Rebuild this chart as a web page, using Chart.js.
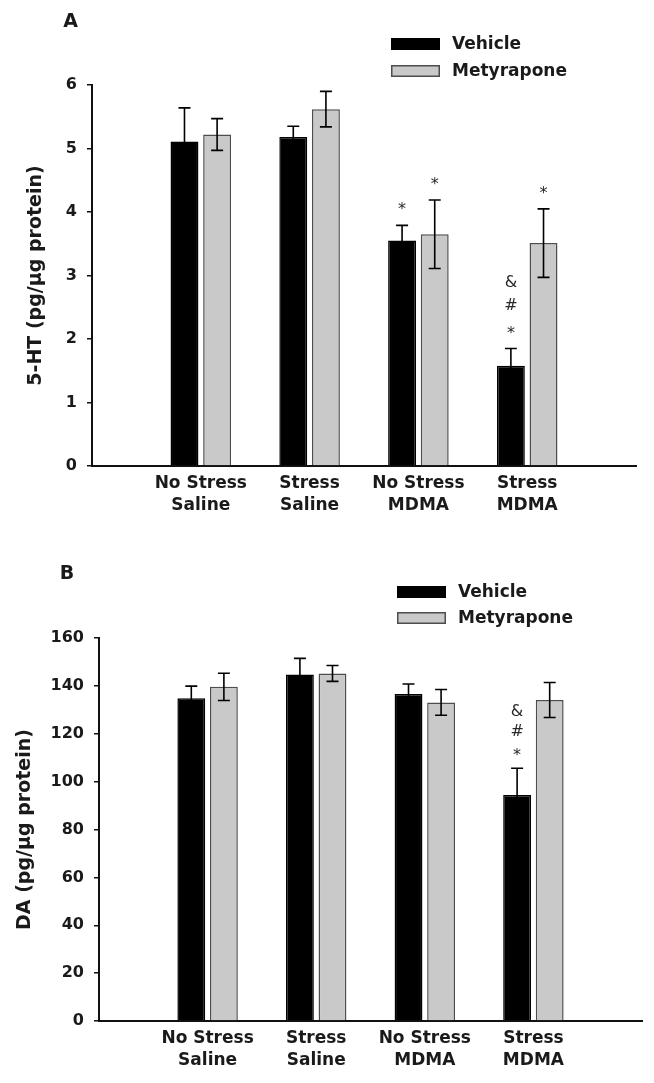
<!DOCTYPE html>
<html>
<head>
<meta charset="utf-8">
<script src="https://cdn.jsdelivr.net/npm/chart.js@4.4.1/dist/chart.umd.min.js"></script>
<style>
html, body { margin: 0; padding: 0; background: #fff; }
#wrap { position: relative; width: 654px; height: 1083px; overflow: hidden; }
canvas { position: absolute; left: 0; display: block; }
</style>
</head>
<body>
<div id="wrap">
  <canvas id="chartA" width="654" height="540" style="top:0px;width:654px;height:540px"></canvas>
  <canvas id="chartB" width="654" height="543" style="top:540px;width:654px;height:543px"></canvas>
</div>
<script>
// ---------- DATA ----------
const categories = [['No Stress', 'Saline'], ['Stress', 'Saline'], ['No Stress', 'MDMA'], ['Stress', 'MDMA']];
const seriesNames = ['Vehicle', 'Metyrapone'];

// Panel A : 5-HT
const vehicleA = [5.11, 5.18, 3.55, 1.58];
const vehicleErrA = [0.53, 0.17, 0.24, 0.27];
const metyraponeA = [5.22, 5.62, 3.65, 3.51];
const metyraponeErrA = [0.25, 0.28, 0.54, 0.54];
const marksVehicleA = [[], [], ['*'], ['*', '#', '&']];
const marksMetyraponeA = [[], [], ['*'], ['*']];
const yTicksA = [0, 1, 2, 3, 4, 5, 6];
const yTitleA = '5-HT (pg/\u00b5g protein)';

// Panel B : DA
const vehicleB = [134.8, 144.8, 136.6, 94.4];
const vehicleErrB = [5.1, 6.7, 4.2, 11.2];
const metyraponeB = [139.6, 145.2, 133.1, 134.1];
const metyraponeErrB = [5.7, 3.3, 5.4, 7.3];
const marksVehicleB = [[], [], [], ['*', '#', '&']];
const marksMetyraponeB = [[], [], [], []];
const yTicksB = [0, 20, 40, 60, 80, 100, 120, 140, 160];
const yTitleB = 'DA (pg/\u00b5g protein)';

// ---------- STYLE ----------
const FONT = "'DejaVu Sans', 'Liberation Sans', Arial, sans-serif";
const TEXT = '#1a1a1a';
const colors = { vehicle: '#000000', vehicleBorder: '#000000', mety: '#c9c9c9', metyBorder: '#4d4d4d' };

const decorPlugin = {
  id: 'decor',
  afterDatasetsDraw(chart, args, o) {
    const ctx = chart.ctx;
    const ys = chart.scales.y;
    ctx.save();
    chart.data.datasets.forEach((ds, i) => {
      const meta = chart.getDatasetMeta(i);
      meta.data.forEach((bar, j) => {
        const v = ds.data[j];
        if (v === null || v === undefined) return;
        const e = ds.errors[j];
        const x = bar.x;
        const yt = ys.getPixelForValue(v + e);
        const yb = ys.getPixelForValue(v - e);
        ctx.strokeStyle = '#000';
        ctx.lineWidth = 1.6;
        ctx.beginPath();
        ctx.moveTo(x, yt); ctx.lineTo(x, yb);
        ctx.moveTo(x - o.cap, yt); ctx.lineTo(x + o.cap, yt);
        ctx.moveTo(x - o.cap, yb); ctx.lineTo(x + o.cap, yb);
        ctx.stroke();
        const marks = ds.marks[j] || [];
        ctx.fillStyle = '#2a2a2a';
        ctx.font = '16px ' + FONT;
        ctx.textAlign = 'center';
        ctx.textBaseline = 'middle';
        marks.forEach((m, k) => {
          const my = yt - o.markFirst - k * o.markStep + (m === '*' ? 4 : 0);
          ctx.fillText(m, x, my);
        });
      });
    });
    ctx.restore();
  },
  afterDraw(chart, args, o) {
    const ctx = chart.ctx;
    ctx.save();
    // panel letter
    ctx.fillStyle = TEXT;
    ctx.font = 'bold 19px ' + FONT;
    ctx.textAlign = 'center';
    ctx.textBaseline = 'middle';
    ctx.fillText(o.letter, o.letterX, o.letterY);
    // legend
    chart.data.datasets.forEach((ds, i) => {
      const bx = o.legendX, by = o.legendY + i * o.legendStep;
      ctx.fillStyle = ds.backgroundColor;
      ctx.fillRect(bx, by, 49, 12);
      ctx.strokeStyle = ds.borderColor;
      ctx.lineWidth = 1.5;
      ctx.strokeRect(bx + 0.75, by + 0.75, 47.5, 10.5);
      ctx.fillStyle = TEXT;
      ctx.font = 'bold 17px ' + FONT;
      ctx.textAlign = 'left';
      ctx.textBaseline = 'middle';
      ctx.fillText(ds.label, bx + 61, by + 7);
    });
    ctx.restore();
  }
};

function makeChart(id, vVals, vErr, vMarks, mVals, mErr, mMarks, yTicks, yTitle, lay) {
  const labels = [''].concat(categories).concat(['']);
  const pad = (arr) => [null].concat(arr).concat([null]);
  const padM = (arr) => [[]].concat(arr).concat([[]]);
  return new Chart(document.getElementById(id), {
    type: 'bar',
    data: {
      labels: labels,
      datasets: [
        { label: seriesNames[0], data: pad(vVals), errors: pad(vErr), marks: padM(vMarks),
          backgroundColor: colors.vehicle, borderColor: colors.vehicleBorder, borderWidth: 1.5 },
        { label: seriesNames[1], data: pad(mVals), errors: pad(mErr), marks: padM(mMarks),
          backgroundColor: colors.mety, borderColor: colors.metyBorder, borderWidth: 1.5 }
      ]
    },
    options: {
      responsive: false,
      animation: false,
      events: [],
      categoryPercentage: 0.60,
      barPercentage: 0.855,
      layout: { padding: { left: 0, top: lay.top, right: lay.right, bottom: 0 } },
      plugins: {
        legend: { display: false },
        tooltip: { enabled: false },
        decor: lay.decor
      },
      scales: {
        x: {
          type: 'category',
          offset: false,
          grid: { display: false, drawTicks: false },
          border: { display: true, color: '#111', width: 2 },
          ticks: {
            autoSkip: false, maxRotation: 0, minRotation: 0, padding: 6, color: TEXT,
            font: { family: FONT, size: 17, weight: 'bold', lineHeight: 1.32 }
          },
          afterFit: (s) => { s.height = lay.xHeight; }
        },
        y: {
          min: yTicks[0], max: yTicks[yTicks.length - 1],
          grid: { drawOnChartArea: false, drawTicks: true, tickLength: 5, color: '#111', lineWidth: 1.5 },
          border: { display: true, color: '#111', width: 2 },
          ticks: {
            stepSize: yTicks[1] - yTicks[0], padding: 10, color: TEXT,
            font: { family: FONT, size: 16, weight: 'bold' }
          },
          title: {
            display: true, text: yTitle, color: TEXT,
            font: { family: FONT, size: 19, weight: 'bold' },
            padding: { top: lay.titlePad, bottom: 0 }
          },
          afterFit: (s) => { s.width = lay.left; }
        }
      }
    },
    plugins: [decorPlugin]
  });
}

makeChart('chartA', vehicleA, vehicleErrA, marksVehicleA, metyraponeA, metyraponeErrA, marksMetyraponeA,
  yTicksA, yTitleA,
  { top: 85, right: 18, left: 92, xHeight: 74, titlePad: 24.5,
    decor: { letter: 'A', letterX: 70.5, letterY: 22, legendX: 391, legendY: 38, legendStep: 27,
             cap: 6, markFirst: 19, markStep: 23.5 } });

makeChart('chartB', vehicleB, vehicleErrB, marksVehicleB, metyraponeB, metyraponeErrB, marksMetyraponeB,
  yTicksB, yTitleB,
  { top: 98, right: 12, left: 99, xHeight: 62, titlePad: 14,
    decor: { letter: 'B', letterX: 67, letterY: 34.5, legendX: 397, legendY: 46, legendStep: 26,
             cap: 6, markFirst: 16, markStep: 20 } });
</script>
</body>
</html>
